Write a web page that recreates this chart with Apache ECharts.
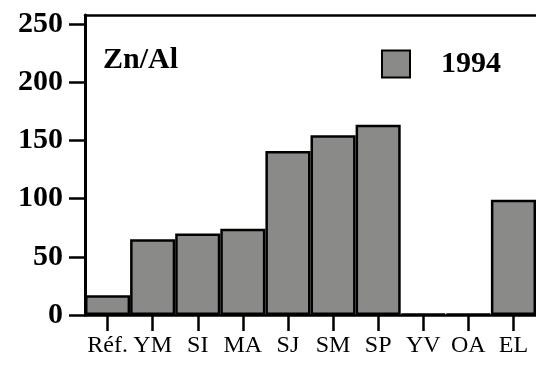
<!DOCTYPE html>
<html>
<head>
<meta charset="utf-8">
<script src="https://cdn.jsdelivr.net/npm/echarts@6/dist/echarts.min.js"></script>
<style>
  html, body { margin: 0; padding: 0; background: #fff; }
  #chart { width: 536px; height: 365px; }
</style>
</head>
<body>
<div id="chart"></div>
<script>
// sites along the x axis
var categories = ['Réf.', 'YM', 'SI', 'MA', 'SJ', 'SM', 'SP', 'YV', 'OA', 'EL']
// Zn/Al ratio, 1994
var values1994 = [17, 65, 70, 74, 141, 154.5, 163.5, 1, 1, 99]
var yMaxTick = 250
var yStep = 50

var serif = '"Liberation Serif", "DejaVu Serif", serif'

var chart = echarts.init(document.getElementById('chart'), null, { renderer: 'canvas' })

// the frame goes a bit above the 250 tick: bars live in grid 0 (top 15),
// ticks and labels in grid 1 whose top sits on 250
var frameTop = 15, tickTop = 24, bottom = 50
var frameMax = yMaxTick * (365 - bottom - frameTop) / (365 - bottom - tickTop)

chart.setOption({
  animation: false,
  title: {
    text: 'Zn/Al',
    left: 103,
    top: 45,
    padding: 0,
    textStyle: { fontFamily: serif, fontWeight: 'bold', fontSize: 30, color: '#000' }
  },
  legend: {
    data: ['1994'],
    left: 381,
    top: 49,
    padding: 0,
    itemWidth: 28,
    itemHeight: 27,
    icon: 'rect',
    itemStyle: { color: '#8a8b88', borderColor: '#000', borderWidth: 2 },
    textStyle: { fontFamily: serif, fontWeight: 'bold', fontSize: 30, color: '#000', padding: [0, 0, 0, 26] }
  },
  grid: [
    { left: 85, top: frameTop, right: -2, bottom: bottom },
    { left: 85, top: tickTop, right: -2, bottom: bottom }
  ],
  xAxis: [{
    type: 'category',
    gridIndex: 0,
    data: categories,
    axisLine: { show: true, lineStyle: { color: '#000', width: 2.5 } },
    axisTick: { show: true, alignWithLabel: true, length: 16, lineStyle: { color: '#000', width: 2.5 } },
    axisLabel: { fontFamily: serif, fontSize: 24, color: '#000', margin: 19, interval: 0 }
  }, {
    type: 'category',
    gridIndex: 0,
    position: 'top',
    data: categories,
    axisLine: { show: true, lineStyle: { color: '#000', width: 2.5 } },
    axisTick: { show: false },
    axisLabel: { show: false }
  }, {
    type: 'category',
    gridIndex: 1,
    data: categories,
    show: false
  }],
  yAxis: [{
    type: 'value',
    gridIndex: 0,
    min: 0,
    max: frameMax,
    splitLine: { show: false },
    axisLine: { show: true, lineStyle: { color: '#000', width: 3 } },
    axisTick: { show: false },
    axisLabel: { show: false }
  }, {
    type: 'value',
    gridIndex: 1,
    min: 0,
    max: yMaxTick,
    interval: yStep,
    splitLine: { show: false },
    axisLine: { show: false },
    axisTick: { show: true, length: 16, lineStyle: { color: '#000', width: 2.5 } },
    axisLabel: { show: true, fontFamily: serif, fontWeight: 'bold', fontSize: 30, color: '#000', margin: 22 }
  }],
  series: [{
    name: '1994',
    type: 'bar',
    xAxisIndex: 0,
    yAxisIndex: 0,
    data: values1994,
    barWidth: '100%',
    itemStyle: { color: '#8a8b88', borderColor: '#000', borderWidth: 2.5 }
  }]
})
</script>
</body>
</html>
